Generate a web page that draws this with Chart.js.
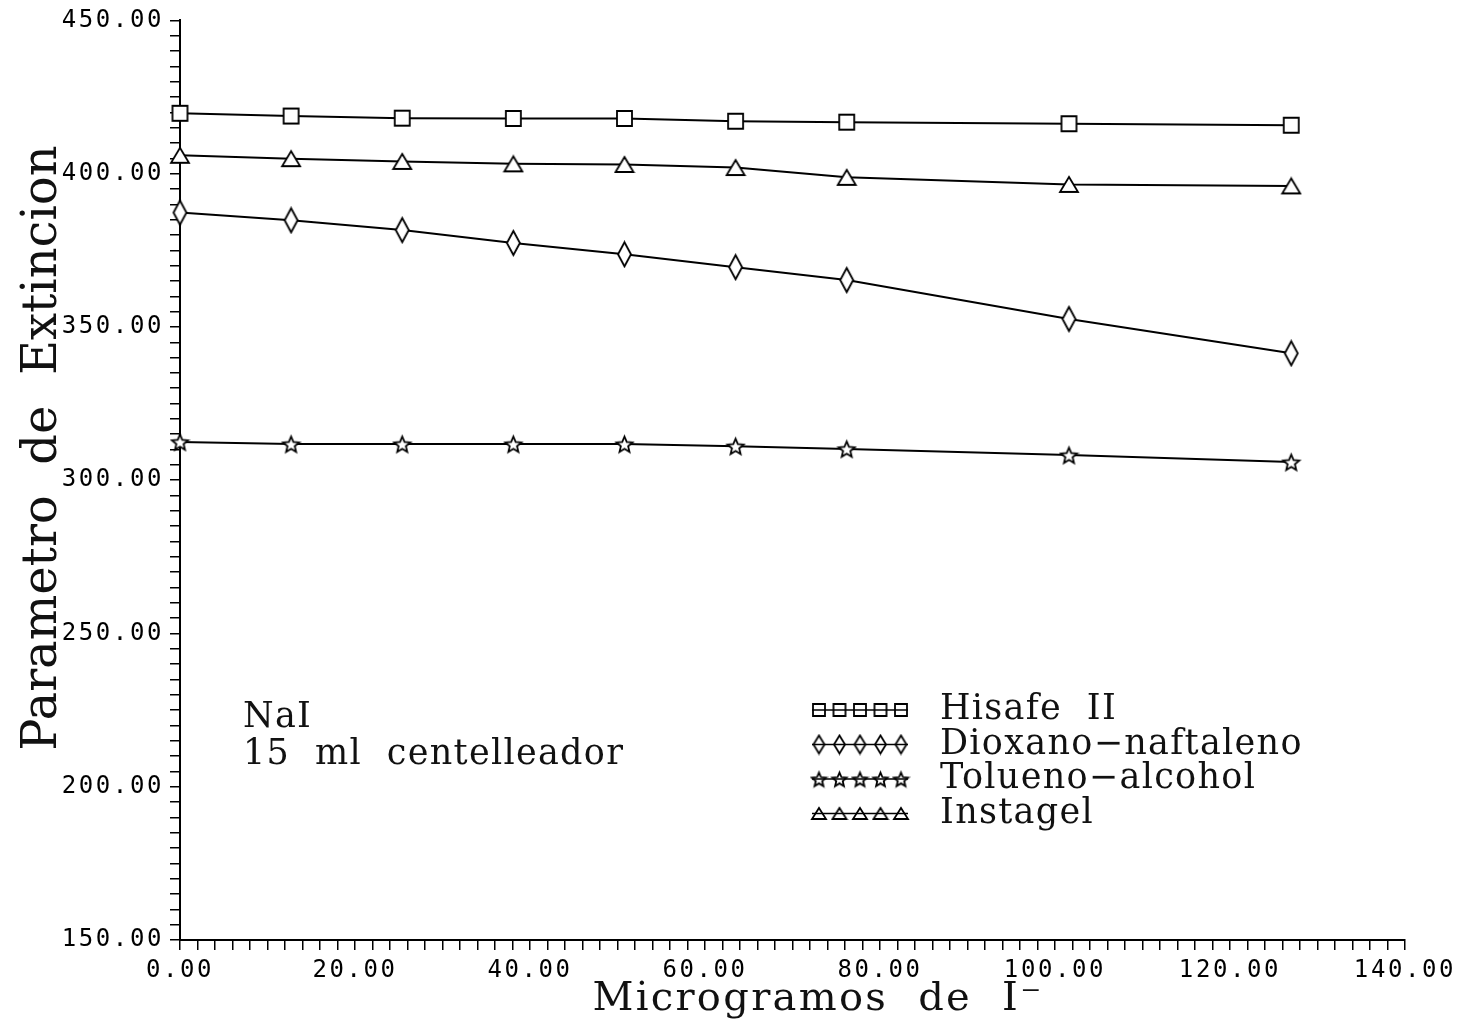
<!DOCTYPE html>
<html>
<head>
<meta charset="utf-8">
<script src="https://cdn.jsdelivr.net/npm/chart.js@4.4.1/dist/chart.umd.min.js"></script>
<style>
  html, body { margin: 0; padding: 0; background: #fff; }
  #wrap { width: 1461px; height: 1032px; }
</style>
</head>
<body>
<div id="wrap"><canvas id="chart" width="1461" height="1032"></canvas></div>
<script>
// micrograms of iodide added
const microgramos = [0, 12.7, 25.4, 38.1, 50.8, 63.5, 76.2, 101.6, 127.0];

// extinction parameter for each cocktail
const hisafe   = [419.7, 418.8, 418.1, 418.0, 418.0, 417.1, 416.8, 416.3, 415.8];
const dioxano  = [387.3, 384.8, 381.6, 377.4, 373.7, 369.5, 365.3, 352.6, 341.4];
const tolueno  = [312.5, 311.8, 311.8, 311.8, 311.8, 311.1, 310.2, 308.2, 305.9];
const instagel = [406.0, 404.9, 404.0, 403.2, 403.0, 402.0, 398.8, 396.5, 396.0];

const seriesNames = ['Hisafe  II', 'Dioxano\u2212naftaleno', 'Tolueno\u2212alcohol', 'Instagel'];
const noteLines = ['NaI', '15  ml  centelleador'];
const xTitle = 'Microgramos  de  I\u207B';
const yTitle = 'Parametro  de  Extincion';

const SERIF = '"DejaVu Serif", "Liberation Serif", serif';
const MONO = '"DejaVu Sans Mono", "Liberation Mono", monospace';

// hollow marker drawn on a small canvas, used as a Chart.js pointStyle
function marker(kind, w, h, fill) {
  const c = document.createElement('canvas');
  c.width = w + 4; c.height = h + 4;
  const g = c.getContext('2d');
  g.translate(c.width / 2, c.height / 2);
  g.lineWidth = 1.8;
  g.strokeStyle = '#000';
  g.fillStyle = fill;
  g.beginPath();
  if (kind === 'square') {
    g.rect(-w / 2, -h / 2, w, h);
  } else if (kind === 'diamond') {
    g.moveTo(0, -h / 2); g.lineTo(w / 2, 0); g.lineTo(0, h / 2); g.lineTo(-w / 2, 0); g.closePath();
  } else if (kind === 'triangle') {
    g.moveTo(0, -h / 2); g.lineTo(w / 2, h / 2); g.lineTo(-w / 2, h / 2); g.closePath();
  } else if (kind === 'star') {
    const R = w / 2, r = R * 0.45;
    for (let i = 0; i < 10; i++) {
      const a = -Math.PI / 2 + i * Math.PI / 5;
      const rad = i % 2 ? r : R;
      g.lineTo(Math.cos(a) * rad, Math.sin(a) * rad + 1);
    }
    g.closePath();
  }
  if (fill) g.fill();
  g.stroke();
  return c;
}

const pts = {
  square:   marker('square', 15, 15, '#fff'),
  diamond:  marker('diamond', 13, 24, '#fff'),
  star:     marker('star', 17, 17, '#fff'),
  triangle: marker('triangle', 18, 15, '#fff')
};
const legendPts = [
  marker('square', 12, 12, ''),
  marker('diamond', 11, 18, ''),
  marker('star', 15, 15, ''),
  marker('triangle', 14, 11, '')
];

function series(label, values, style) {
  return {
    label,
    data: microgramos.map((x, i) => ({ x, y: values[i] })),
    borderColor: '#000',
    borderWidth: 2,
    pointStyle: style,
    pointRadius: 8,
    clip: false,
    tension: 0
  };
}

// wider spacing for the plotter-style tick numbers
const spacingPlugin = {
  id: 'tickSpacing',
  beforeDraw(chart) { chart.ctx.letterSpacing = '2.6px'; },
  beforeDatasetsDraw(chart) { chart.ctx.letterSpacing = '0px'; }
};

// axis titles, legend block and sample note
const notesPlugin = {
  id: 'notes',
  afterDraw(chart) {
    const ctx = chart.ctx;
    const area = chart.chartArea;
    ctx.save();
    ctx.fillStyle = '#111';
    ctx.textBaseline = 'middle';

    ctx.textAlign = 'center';
    ctx.font = '40px ' + SERIF;
    ctx.letterSpacing = '2.3px';
    ctx.fillText(xTitle, 818, 1000);

    ctx.save();
    ctx.translate(44, 448);
    ctx.rotate(-Math.PI / 2);
    ctx.font = '48px ' + SERIF;
    ctx.letterSpacing = '0px';
    ctx.fillText(yTitle, 0, 0);
    ctx.restore();

    ctx.textAlign = 'left';
    ctx.font = '35px ' + SERIF;
    ctx.letterSpacing = '1.3px';
    noteLines.forEach((t, i) => ctx.fillText(t, 243, 718 + i * 37));

    seriesNames.forEach((name, i) => {
      const y = 710 + i * 34.5;
      ctx.strokeStyle = '#000';
      ctx.lineWidth = 1.5;
      ctx.beginPath(); ctx.moveTo(812, y); ctx.lineTo(908, y); ctx.stroke();
      const m = legendPts[i];
      for (let k = 0; k < 5; k++) {
        const cx = 819 + k * 20.5;
        ctx.drawImage(m, cx - m.width / 2, y - m.height / 2);
      }
      ctx.fillText(name, 940, y);
    });
    ctx.restore();
  }
};

new Chart(document.getElementById('chart'), {
  type: 'line',
  data: {
    datasets: [
      series(seriesNames[0], hisafe, pts.square),
      series(seriesNames[1], dioxano, pts.diamond),
      series(seriesNames[2], tolueno, pts.star),
      series(seriesNames[3], instagel, pts.triangle)
    ]
  },
  options: {
    responsive: false,
    animation: false,
    layout: { padding: { top: 20, right: 56, left: 0, bottom: 0 } },
    plugins: { legend: { display: false }, tooltip: { enabled: false } },
    scales: {
      x: {
        type: 'linear',
        min: 0, max: 140,
        afterFit: s => { s.height = 92; },
        border: { display: true, color: '#000', width: 2 },
        grid: { drawOnChartArea: false, drawTicks: true, tickLength: 10, color: '#000', lineWidth: 1.5 },
        ticks: {
          stepSize: 2, autoSkip: false, maxTicksLimit: 200, maxRotation: 0, padding: 6,
          color: '#000', font: { family: MONO, size: 24 },
          callback: v => (v % 20 === 0 ? v.toFixed(2) : '')
        }
      },
      y: {
        type: 'linear',
        min: 150, max: 450,
        afterFit: s => { s.width = 180; },
        border: { display: true, color: '#000', width: 2 },
        grid: { drawOnChartArea: false, drawTicks: true, tickLength: 10, color: '#000', lineWidth: 1.5 },
        ticks: {
          stepSize: 5, autoSkip: false, maxTicksLimit: 200, padding: 6,
          color: '#000', font: { family: MONO, size: 24 },
          callback: v => (v % 50 === 0 ? v.toFixed(2) : '')
        }
      }
    }
  },
  plugins: [spacingPlugin, notesPlugin]
});
</script>
</body>
</html>
